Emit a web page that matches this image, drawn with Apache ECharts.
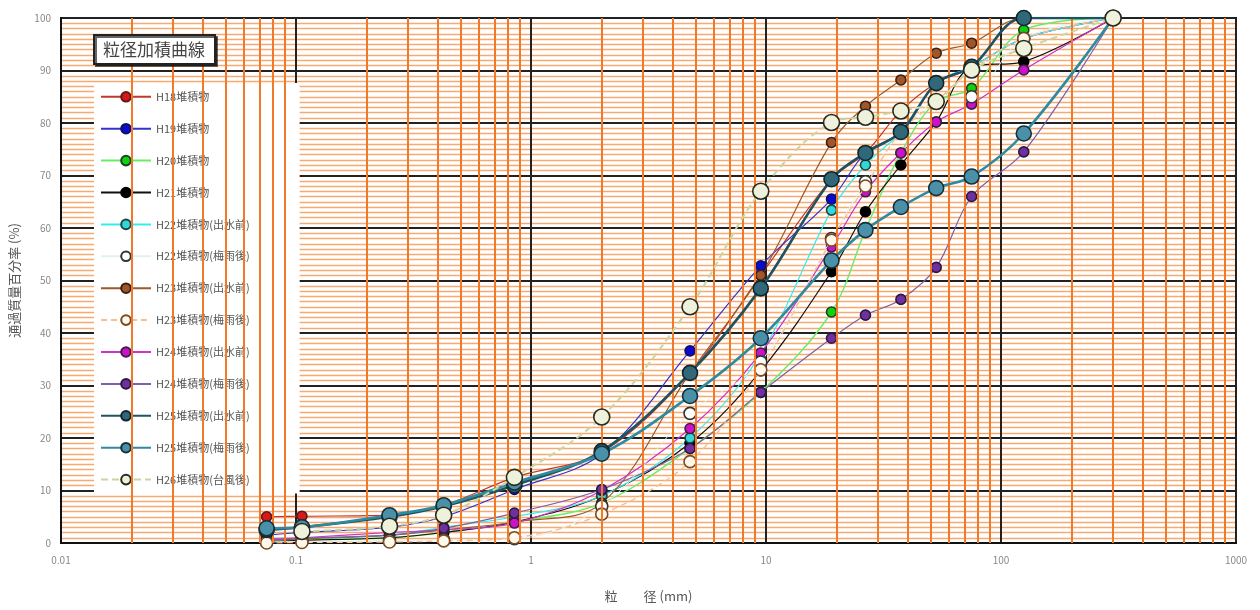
<!DOCTYPE html>
<html>
<head>
<meta charset="utf-8">
<script src="https://cdn.jsdelivr.net/npm/echarts@6/dist/echarts.min.js"></script>
<style>
  html, body { margin: 0; padding: 0; background: #fff; }
  #chart { width: 1260px; height: 610px; }
</style>
</head>
<body>
<div id="chart"></div>
<script>
// Sieve openings (mm)
const sieves = [0.075, 0.106, 0.25, 0.425, 0.85, 2, 4.75, 9.5, 19, 26.5, 37.5, 53, 75, 125, 300];

// Percent passing by sieve, one array per sample
const h18 = [5, 5.1, 5.3, 7.2, 12.5, 17.3, 32.4, 51, 69.3, 74.3, 82.3, 87.6, 90.7, 100, 100];
const h19 = [1.5, 2, 3, 5, 10.2, 17, 36.6, 52.8, 65.5, 74.3, 78.3, 87.6, 90.7, 96.1, 100];
const h20 = [0.5, 0.7, 1, 2, 4, 7.6, 18, 28.7, 44, 59.6, 74.3, 84.1, 86.6, 97.7, 100];
const h21 = [0.3, 0.5, 1, 2, 4, 9, 19, 32.8, 51.7, 63.1, 72, 80.2, 90.7, 91.7, 100];
const h22a = [0.5, 0.8, 1.5, 3, 5, 9, 20, 36, 63.4, 72, 78.3, 87.6, 90.7, 96.1, 100];
const h22b = [0.2, 0.3, 0.5, 0.6, 0.8, 7, 24.7, 34.5, 58, 68.8, 78.3, 84.1, 85, 96.1, 100];
const h23a = [0.5, 0.8, 1.5, 2.5, 4, 7.6, 32.4, 51, 76.3, 83.2, 88.2, 93.3, 95.2, 100, 100];
const h23b = [0, 0.1, 0.2, 0.4, 1, 5.5, 15.5, 33, 57.7, 68, 78.3, 84.1, 90.1, 96.1, 100];
const h24a = [0.5, 1, 2, 2.5, 3.8, 10, 21.8, 36.2, 56.4, 66.9, 74.3, 80.2, 83.6, 90.1, 100];
const h24b = [0.9, 1, 1.5, 2.8, 5.7, 10.2, 18, 28.7, 39, 43.4, 46.4, 52.5, 66, 74.5, 100];
const h25a = [2.5, 3, 5, 7, 11, 17.5, 32.4, 48.5, 69.3, 74.3, 78.3, 87.6, 90.7, 100, 100];
const h25b = [2.8, 3, 5.3, 7.2, 11.5, 17, 28, 39, 53.8, 59.6, 64, 67.6, 69.8, 78, 100];
const h26 = [null, 2.2, 3.2, 5.3, 12.5, 24, 45, 67, 80.1, 81.1, 82.3, 84.1, 90.1, 94.2, 100];

const names = [
  'H18堆積物', 'H19堆積物', 'H20堆積物', 'H21堆積物',
  'H22堆積物(出水前)', 'H22堆積物(梅雨後)', 'H23堆積物(出水前)', 'H23堆積物(梅雨後)',
  'H24堆積物(出水前)', 'H24堆積物(梅雨後)', 'H25堆積物(出水前)', 'H25堆積物(梅雨後)',
  'H26堆積物(台風後)'
];

// Axis ticks
const yTicks = [0, 10, 20, 30, 40, 50, 60, 70, 80, 90, 100];
const xDecades = [0.01, 0.1, 1, 10, 100, 1000];

// minor vertical grid: 2..9 within each decade
const xMinor = [];
for (let d = 0; d < xDecades.length - 1; d++) {
  for (let k = 2; k <= 9; k++) xMinor.push(+(xDecades[d] * k).toPrecision(3));
}

const styles = [
  { line: '#c0392b', fill: '#d81818', border: '#5a1a1a', size: 10, width: 1.2, z: 3 },
  { line: '#3333cc', fill: '#0a0ad0', border: '#101060', size: 10, width: 1.2, z: 3 },
  { line: '#66ee66', fill: '#10d010', border: '#204020', size: 10, width: 1.4, z: 3 },
  { line: '#111111', fill: '#000000', border: '#000000', size: 10, width: 1.2, z: 3 },
  { line: '#33eeee', fill: '#30d8d8', border: '#224444', size: 10, width: 1.2, z: 3 },
  { line: '#dff2f2', fill: '#ffffff', border: '#333333', size: 12, width: 1, z: 4 },
  { line: '#9a5a2a', fill: '#a0562a', border: '#3a2010', size: 10, width: 1.2, z: 3 },
  { line: '#f7c08e', fill: '#fff8ec', border: '#7a4a20', size: 12, width: 1.4, z: 4, dash: [6, 4] },
  { line: '#cc33cc', fill: '#cc10cc', border: '#402040', size: 10, width: 1.2, z: 3 },
  { line: '#7e5fa8', fill: '#7030a0', border: '#2a1a40', size: 10, width: 1.2, z: 3 },
  { line: '#1f5363', fill: '#30687a', border: '#10262e', size: 15, width: 2.6, z: 6 },
  { line: '#2f8aa0', fill: '#4a90a8', border: '#15303a', size: 15, width: 2.6, z: 6 },
  { line: '#c6d89e', fill: '#eef2dc', border: '#2a2a1a', size: 16, width: 2, z: 7, dash: [7, 4] }
];

const values = [h18, h19, h20, h21, h22a, h22b, h23a, h23b, h24a, h24b, h25a, h25b, h26];

const dataSeries = values.map((vals, i) => {
  const s = styles[i];
  return {
    name: names[i],
    type: 'line',
    smooth: 0.35,
    connectNulls: true,
    symbol: 'circle',
    symbolSize: s.size,
    z: s.z,
    data: sieves.map((d, j) => [d, vals[j]]).filter(p => p[1] !== null),
    lineStyle: { color: s.line, width: s.width, type: s.dash ? s.dash : 'solid' },
    itemStyle: { color: s.fill, borderColor: s.border, borderWidth: 1.6 },
    emphasis: { disabled: true }
  };
});

// minor vertical grid lines drawn through the log scale
const gridSeries = {
  name: 'grid',
  type: 'line',
  z: 1,
  silent: true,
  showSymbol: false,
  lineStyle: { opacity: 0 },
  data: [[0.01, 0], [1000, 0]],
  markLine: {
    silent: true,
    symbol: 'none',
    animation: false,
    label: { show: false },
    lineStyle: { color: '#f07a2a', width: 2, type: 'solid' },
    data: xMinor.map(v => ({ xAxis: v }))
  }
};

const chart = echarts.init(document.getElementById('chart'), null, { renderer: 'canvas' });
chart.setOption({
  animation: false,
  backgroundColor: '#ffffff',
  textStyle: { fontFamily: '"Noto Sans CJK JP", "Noto Sans", sans-serif' },
  title: {
    text: '粒径加積曲線',
    left: 94,
    top: 35,
    padding: [6, 10, 6, 9],
    backgroundColor: '#ffffff',
    borderColor: '#222',
    borderWidth: 2,
    shadowColor: 'rgba(0,0,0,0.6)',
    shadowOffsetX: 2,
    shadowOffsetY: 2,
    shadowBlur: 0,
    textStyle: { fontSize: 17, fontWeight: 'normal', color: '#444' }
  },
  legend: {
    orient: 'vertical',
    left: 94,
    top: 83,
    padding: [8, 50, 8, 6],
    backgroundColor: '#ffffff',
    itemWidth: 50,
    itemHeight: 12,
    itemGap: 20.3,
    data: names,
    textStyle: { fontSize: 11, color: '#555' }
  },
  grid: {
    left: 58, right: 24, top: 18, bottom: 67,
    show: true, borderColor: '#111', borderWidth: 2
  },
  xAxis: {
    type: 'log',
    logBase: 10,
    min: 0.01,
    max: 1000,
    name: '粒　　径 (mm)',
    nameLocation: 'middle',
    nameGap: 47,
    nameTextStyle: { fontSize: 13, color: '#555' },
    axisLine: { lineStyle: { color: '#111', width: 2 } },
    axisTick: { show: false },
    axisLabel: { fontSize: 10, color: '#888', margin: 12,
      formatter: v => xDecades.find(t => Math.abs(Math.log10(t) - Math.log10(v)) < 1e-6) !== undefined ? String(v) : '' },
    splitLine: { show: true, lineStyle: { color: '#222', width: 2 } }
  },
  yAxis: {
    type: 'value',
    min: 0,
    max: 100,
    interval: 10,
    name: '通過質量百分率 (%)',
    nameLocation: 'middle',
    nameGap: 40,
    nameTextStyle: { fontSize: 13, color: '#555' },
    axisLine: { show: true, lineStyle: { color: '#111', width: 2 } },
    axisTick: { show: false },
    axisLabel: { fontSize: 10, color: '#888', margin: 10,
      formatter: v => yTicks.includes(v) ? String(v) : '' },
    splitLine: { show: true, lineStyle: { color: '#222', width: 2 } },
    minorTick: { show: false, splitNumber: 10 },
    minorSplitLine: { show: true, lineStyle: { color: '#f6aa72', width: 1.4 } }
  },
  series: [gridSeries].concat(dataSeries)
});
</script>
</body>
</html>
